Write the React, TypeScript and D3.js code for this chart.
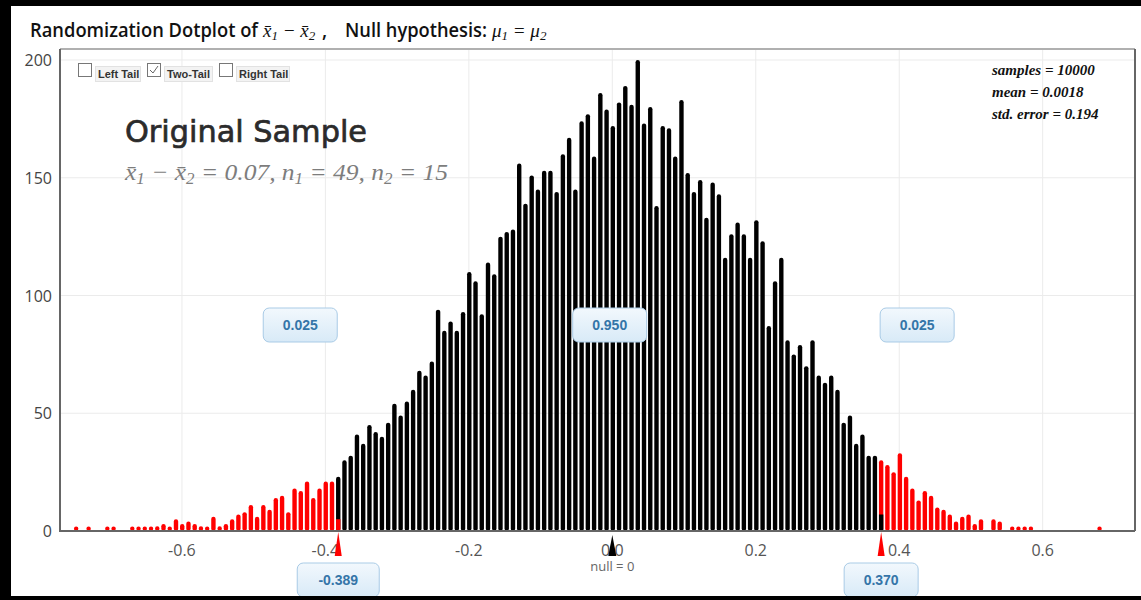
import * as d3 from "d3";

// randomization counts per dot column (left to right)
const counts = [
  1, 0, 1, 0, 0, 1, 1, 0, 0, 1, 1, 1, 1, 2, 3, 1, 5, 3, 4, 3,
  2, 1, 6, 2, 3, 5, 7, 8, 11, 6, 11, 9, 14, 15, 8, 18, 17, 21, 14, 18,
  21, 21, 23, 30, 32, 41, 37, 45, 42, 40, 46, 54, 49, 55, 60, 68, 66, 72, 94, 85,
  89, 85, 93, 110, 106, 92, 114, 109, 125, 127, 128, 156, 139, 151, 145, 153, 153, 144, 160, 167,
  145, 174, 177, 159, 186, 179, 172, 182, 189, 181, 200, 173, 180, 138, 172, 171, 159, 183, 152, 144,
  149, 133, 148, 143, 116, 126, 131, 126, 116, 132, 123, 87, 106, 116, 81, 75, 79, 70, 81, 66,
  63, 66, 60, 46, 49, 37, 41, 32, 32, 30, 28, 25, 33, 23, 18, 13, 17, 15, 10, 9,
  7, 4, 6, 7, 3, 5, 0, 5, 4, 0, 1, 1, 1, 1, 0, 0, 0, 0, 0, 0,
  0, 0, 0, 0, 1,
];
const binStart = -0.7475;
const binWidth = 0.0087;

// columns where the cut-offs fall (split between tail and middle)
const leftCutBin = 42;
const leftCutRed = 5;
const rightCutBin = 129;
const rightCutBlack = 7;
const cutLabels = ["-0.389", "0.370"];
const shareLabels = ["0.025", "0.950", "0.025"];

const xTicks = [-0.6, -0.4, -0.2, 0, 0.2, 0.4, 0.6];
const yTicks = [0, 50, 100, 150, 200];
const statLines = ["samples = 10000", "mean = 0.0018", "std. error = 0.194"];
const tailOptions = ["Left Tail", "Two-Tail", "Right Tail"];
const checkedOption = "Two-Tail";

const W = 1141;
const H = 600;
const plot = { left: 60, right: 1135, top: 49, bottom: 531 };
const labelWidths = [45, 48, 53];
const sans = "'Open Sans', 'DejaVu Sans', sans-serif";
const serif = "'Liberation Serif', 'DejaVu Serif', serif";
const arial = "'Liberation Sans', Arial, sans-serif";
const xbar = "x\u0304";

function ValueBox({ cx, cy, label }: { cx: number; cy: number; label: string }) {
  const w = label.length * 8 + 34;
  const h = 34;
  return (
    <g>
      <rect x={cx - w / 2} y={cy - h / 2} width={w} height={h} rx={6} fill="url(#boxFill)" stroke="#a9cbe6" />
      <text x={cx} y={cy + 5} textAnchor="middle" fontFamily={arial} fontWeight="bold" fontSize={14} fill="#3475a8">
        {label}
      </text>
    </g>
  );
}

export default function App() {
  const x = d3.scaleLinear().domain([-0.77, 0.7287]).range([plot.left, plot.right]);
  const y = d3.scaleLinear().domain([0, 200]).range([plot.bottom, 60]);
  const barW = 4.4;

  const binX = (i: number) => x(binStart + i * binWidth);
  const leftCutX = binX(leftCutBin);
  const rightCutX = binX(rightCutBin);

  const bars = counts.map((c, i) => ({ i, c })).filter((d) => d.c > 0);

  const tri = (cx: number, top: number, bottom: number, half: number) =>
    `M${cx},${top}L${cx + half},${bottom}L${cx - half},${bottom}Z`;

  let optX = 78;
  const options = tailOptions.map((name, k) => {
    const o = { name, boxX: optX, labelX: optX + 19, w: labelWidths[k] };
    optX += 19 + labelWidths[k] + 5;
    return o;
  });

  return (
    <svg width={W} height={H} style={{ position: "absolute", left: 0, top: 0, display: "block", background: "#fff" }}>
      <defs>
        <linearGradient id="boxFill" x1="0" y1="0" x2="0" y2="1">
          <stop offset="0%" stopColor="#f2f8fd" />
          <stop offset="100%" stopColor="#d8eaf7" />
        </linearGradient>
      </defs>

      {/* title */}
      <text x={30} y={37} fontFamily={sans} fontWeight={600} fontSize={19} fill="#111" textLength={228} lengthAdjust="spacingAndGlyphs">
        Randomization Dotplot of
      </text>
      <text x={263} y={37} fontFamily={serif} fontStyle="italic" fontSize={19} fill="#111">
        <tspan>{xbar}</tspan>
        <tspan fontSize={13} dy={3}>1</tspan>
        <tspan dy={-3}> − {xbar}</tspan>
        <tspan fontSize={13} dy={3}>2</tspan>
      </text>
      <text x={322} y={37} fontFamily={sans} fontWeight={600} fontSize={19} fill="#111">,</text>
      <text x={345} y={37} fontFamily={sans} fontWeight={600} fontSize={19} fill="#111" textLength={142} lengthAdjust="spacingAndGlyphs">
        Null hypothesis:
      </text>
      <text x={492} y={37} fontFamily={serif} fontStyle="italic" fontSize={19} fill="#111">
        <tspan>μ</tspan>
        <tspan fontSize={13} dy={3}>1</tspan>
        <tspan dy={-3}> = μ</tspan>
        <tspan fontSize={13} dy={3}>2</tspan>
      </text>

      {/* grid */}
      {xTicks.map((t) => (
        <line key={"gx" + t} x1={x(t)} x2={x(t)} y1={plot.top} y2={plot.bottom} stroke="#ebebeb" />
      ))}
      {yTicks.slice(1).map((t) => (
        <line key={"gy" + t} x1={plot.left} x2={plot.right} y1={y(t)} y2={y(t)} stroke="#ebebeb" />
      ))}

      {/* bars */}
      {bars.map(({ i, c }) => {
        const cx = binX(i);
        const red = i < leftCutBin || i >= rightCutBin;
        const top = Math.min(y(c), plot.bottom - barW);
        return (
          <rect key={i} x={cx - barW / 2} y={top} width={barW} height={plot.bottom - top}
            rx={barW / 2} fill={red ? "#ff0000" : "#000"} />
        );
      })}
      <rect x={leftCutX - barW / 2} y={y(leftCutRed)} width={barW} height={plot.bottom - y(leftCutRed)} fill="#ff0000" />
      <rect x={rightCutX - barW / 2} y={y(rightCutBlack)} width={barW} height={plot.bottom - y(rightCutBlack)} fill="#000" />

      {/* frame */}
      <line x1={plot.left} x2={plot.right} y1={plot.top} y2={plot.top} stroke="#b0b0b0" strokeWidth={2} />
      <line x1={plot.right} x2={plot.right} y1={plot.top} y2={plot.bottom} stroke="#666" strokeWidth={2} />
      <line x1={plot.left} x2={plot.left} y1={plot.top} y2={plot.bottom + 1} stroke="#666" strokeWidth={2} />
      <line x1={plot.left} x2={plot.right} y1={plot.bottom} y2={plot.bottom} stroke="#666" strokeWidth={2} />

      {/* axes labels */}
      {yTicks.map((t) => (
        <text key={"yl" + t} x={52} y={y(t) + 6} textAnchor="end" fontFamily={sans} fontSize={16} fill="#444">
          {t}
        </text>
      ))}
      {xTicks.map((t) => (
        <text key={"xl" + t} x={x(t)} y={556} textAnchor="middle" fontFamily={sans} fontSize={16} fill="#555">
          {t.toFixed(1)}
        </text>
      ))}
      <text x={x(0)} y={571} textAnchor="middle" fontFamily={sans} fontSize={13} fill="#666">null = 0</text>

      {/* markers */}
      <path d={tri(x(0), 535, 556, 4)} fill="#000" />
      <path d={tri(leftCutX, 532, 556, 3.5)} fill="#ff0000" />
      <path d={tri(rightCutX, 532, 556, 3.5)} fill="#ff0000" />

      {/* tail proportions */}
      <ValueBox cx={leftCutX - 38} cy={325} label={shareLabels[0]} />
      <ValueBox cx={(leftCutX + rightCutX) / 2} cy={325} label={shareLabels[1]} />
      <ValueBox cx={rightCutX + 36} cy={325} label={shareLabels[2]} />
      <ValueBox cx={leftCutX} cy={580} label={cutLabels[0]} />
      <ValueBox cx={rightCutX} cy={580} label={cutLabels[1]} />

      {/* tail options */}
      {options.map((o) => (
        <g key={o.name}>
          <rect x={o.boxX + 0.5} y={63.5} width={13} height={13} fill="#fff" stroke="#777" />
          {o.name === checkedOption && (
            <path d={`M${o.boxX + 3},${70}L${o.boxX + 6},${73}L${o.boxX + 11},${66}`} fill="none" stroke="#666" strokeWidth={1} />
          )}
          <rect x={o.labelX - 1.5} y={66.5} width={o.w} height={15} fill="#f3f3f3" stroke="#e2e2e2" />
          <text x={o.labelX + 1} y={78} fontFamily={arial} fontWeight="bold" fontSize={11} fill="#333">
            {o.name}
          </text>
        </g>
      ))}

      {/* original sample */}
      <text x={125} y={142} fontFamily="'DejaVu Sans', sans-serif" fontSize={31} fill="#2b2b2b"
        stroke="#2b2b2b" strokeWidth={0.7} textLength={242} lengthAdjust="spacingAndGlyphs">
        Original Sample
      </text>
      <text x={125} y={180} fontFamily={serif} fontStyle="italic" fontSize={24} fill="#7d7d7d"
        textLength={323} lengthAdjust="spacingAndGlyphs">
        <tspan>{xbar}</tspan>
        <tspan fontSize={16} dy={4}>1</tspan>
        <tspan dy={-4}> − {xbar}</tspan>
        <tspan fontSize={16} dy={4}>2</tspan>
        <tspan dy={-4}> = 0.07, n</tspan>
        <tspan fontSize={16} dy={4}>1</tspan>
        <tspan dy={-4}> = 49, n</tspan>
        <tspan fontSize={16} dy={4}>2</tspan>
        <tspan dy={-4}> = 15</tspan>
      </text>

      {/* summary stats */}
      {statLines.map((s, k) => (
        <text key={s} x={992} y={75 + k * 22} fontFamily={serif} fontStyle="italic" fontWeight="bold" fontSize={15} fill="#111">
          {s}
        </text>
      ))}

      {/* screenshot frame */}
      <rect x={0} y={0} width={W} height={6} fill="#000" />
      <rect x={0} y={0} width={11} height={H} fill="#000" />
      <rect x={0} y={596} width={W} height={4} fill="#000" />
    </svg>
  );
}
